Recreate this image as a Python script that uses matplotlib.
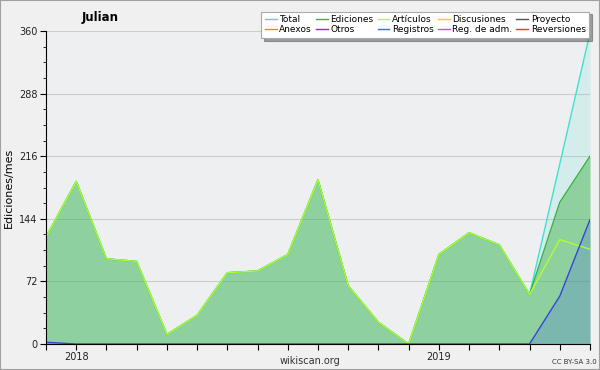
import matplotlib
matplotlib.use("Agg")
import matplotlib.pyplot as plt
import numpy as np

months = list(range(19))  # Dec 2017 .. Jun 2019
year_ticks = [1, 13]
year_labels = ["2018", "2019"]

total      = [123, 187, 98, 95, 11, 33, 82, 84, 103, 189, 67, 25, 0, 103, 128, 114, 57, 207, 358]
ediciones  = [123, 187, 98, 95, 11, 33, 82, 84, 103, 189, 67, 25, 0, 103, 128, 114, 57, 163, 216]
articulos  = [123, 187, 98, 95, 11, 33, 82, 84, 103, 189, 67, 25, 0, 103, 128, 114, 57, 120, 109]
registros  = [2, 0, 0, 0, 0, 0, 0, 0, 0, 0, 0, 0, 0, 0, 0, 0, 0, 55, 143]

legend_names = ["Total", "Ediciones", "Artículos", "Discusiones", "Proyecto",
                "Anexos", "Otros", "Registros", "Reg. de adm.", "Reversiones"]
legend_colors = ["#40e0d0", "#3cb043", "#adff2f", "#ffcc00", "#555555",
                 "#ff7f27", "#8a2be2", "#4169e1", "#e040fb", "#ff3030"]

fig = plt.figure(figsize=(6, 3.7), dpi=100, facecolor="#f0f0f0")
ax = fig.add_axes([46/600, 26/370, 544/600, 313/370])
ax.set_facecolor("#eeeff1")

x = np.array(months)
ax.fill_between(x, total, color="#40e0d0", alpha=0.15, lw=0)
ax.plot(x, total, color="#40e0d0", lw=1)
ax.fill_between(x, ediciones, color="#3cb043", alpha=0.45, lw=0)
ax.plot(x, ediciones, color="#3cb043", lw=1)
ax.plot(x, articulos, color="#adff2f", lw=1)
ax.fill_between(x, registros, color="#4169e1", alpha=0.25, lw=0)
ax.plot(x, registros, color="#3344dd", lw=1)

ax.set_xlim(0, 18)
ax.set_ylim(0, 360)
ax.set_yticks([0, 72, 144, 216, 288, 360])
ax.set_yticks(np.arange(0, 361, 18), minor=True)
ax.set_xticks(months)
ax.set_xticklabels([year_labels[year_ticks.index(m)] if m in year_ticks else "" for m in months])
ax.tick_params(axis="both", labelsize=7, length=4, color="black", labelcolor="#222222", pad=2)
ax.tick_params(axis="y", which="minor", length=2)
ax.grid(axis="y", color="#cccccc", lw=0.8)
ax.set_axisbelow(True)
for s in ["top", "right"]:
    ax.spines[s].set_visible(False)
ax.set_ylabel("Ediciones/mes", fontsize=8, labelpad=4)

fig.text(100/600, 1 - 17/370, "Julian", fontsize=8.5, fontweight="bold", ha="center", va="center")
fig.text(310/600, 1 - 361/370, "wikiscan.org", fontsize=7, ha="center", va="center", color="#333333")
fig.text(597/600, 1 - 362/370, "CC BY-SA 3.0", fontsize=5, ha="right", va="center", color="#333333")

handles = [plt.Line2D([], [], color=c, lw=1) for c in legend_colors]
order = [0, 5, 1, 6, 2, 7, 3, 8, 4, 9]
leg = fig.legend([handles[i] for i in order], [legend_names[i] for i in order],
                 ncol=5, loc="upper right", bbox_to_anchor=(594/600, 1 - 7/370),
                 fontsize=6.5, frameon=True, fancybox=False, shadow=True,
                 handlelength=1.3, handletextpad=0.3, columnspacing=0.45,
                 labelspacing=0.15, borderpad=0.4)
leg.get_frame().set_edgecolor("#aaaaaa")
leg.get_frame().set_facecolor("white")
leg.get_frame().set_linewidth(0.8)

fig.patches.append(plt.Rectangle((0, 0), 1, 1, transform=fig.transFigure, fill=False,
                                 edgecolor="#a0a0a0", lw=1.5))
fig.savefig("out.png", dpi=100, facecolor=fig.get_facecolor())
